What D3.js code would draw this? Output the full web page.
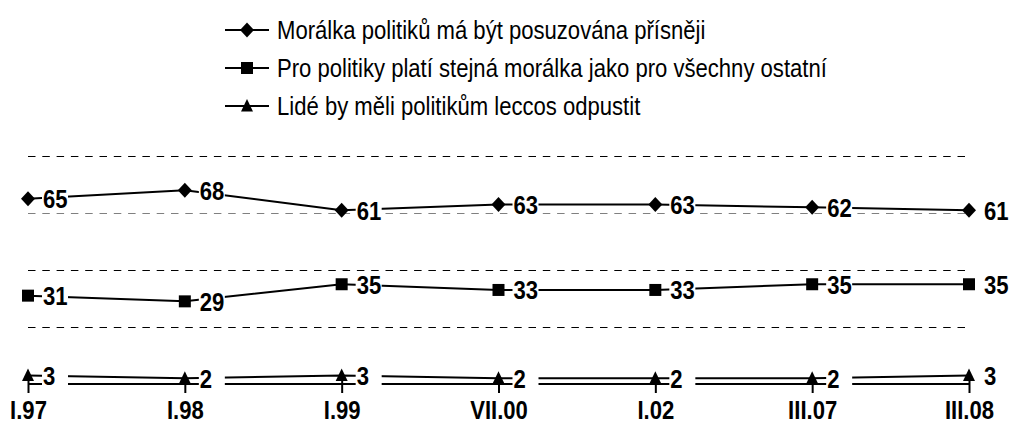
<!DOCTYPE html>
<html>
<head>
<meta charset="utf-8">
<script src="https://cdn.jsdelivr.net/npm/d3@7"></script>
<style>
  body { margin: 0; background: #fff; }
  svg { display: block; }
  .lbl { font: bold 26px "Liberation Sans", Arial, sans-serif; }
  .leg { font: 26px "Liberation Sans", Arial, sans-serif; }
</style>
</head>
<body>
<svg id="chart" width="1010" height="434"></svg>
<script>
var periods = ["I.97", "I.98", "I.99", "VII.00", "I.02", "III.07", "III.08"];
var stricter = [65, 68, 61, 63, 63, 62, 61];
var sameMoral = [31, 29, 35, 33, 33, 35, 35];
var forgive = [3, 2, 3, 2, 2, 2, 3];
var legendNames = [
  "Morálka politiků má být posuzována přísněji",
  "Pro politiky platí stejná morálka jako pro všechny ostatní",
  "Lidé by měli politikům leccos odpustit"
];
var gridValues = [20, 40, 60, 80];

var series = [
  {name: legendNames[0], values: stricter, shape: "diamond"},
  {name: legendNames[1], values: sameMoral, shape: "square"},
  {name: legendNames[2], values: forgive, shape: "triangle"}
];

var narrow = 0.85; // text in the original is horizontally condensed

var svg = d3.select("#chart");

var x = d3.scalePoint().domain(periods).range([28, 969]);
var y = d3.scaleLinear().domain([0, 80]).range([384, 156]);

function marker(shape) {
  if (shape == "diamond") return "M0,-7.5L7,0L0,7.5L-7,0Z";
  if (shape == "square") return "M-6,-6H6V6H-6Z";
  return "M0,-7L6,5.5L-6,5.5Z";
}

// gridlines
svg.append("g").selectAll("line")
  .data(gridValues)
  .enter().append("line")
    .attr("x1", x.range()[0])
    .attr("x2", x.range()[1] + 2)
    .attr("y1", function(d) { return Math.round(y(d)) + 0.5; })
    .attr("y2", function(d) { return Math.round(y(d)) + 0.5; })
    .attr("stroke", function(d) { return d == 60 ? "#808080" : "#000"; })
    .attr("stroke-width", 1)
    .attr("stroke-dasharray", "7.5,6.8");

// x axis
var xAxis = svg.append("g")
  .attr("transform", "translate(0," + y(0) + ")")
  .call(d3.axisBottom(x).tickSize(9).tickPadding(8));
xAxis.attr("font-family", null).attr("font-size", null);
xAxis.select(".domain").attr("stroke", "#000").attr("stroke-width", 2)
  .attr("d", "M" + x.range()[0] + ",0H" + x.range()[1]);
xAxis.selectAll(".tick line").attr("stroke", "#000").attr("stroke-width", 2).attr("y1", -3);
xAxis.selectAll(".tick text")
  .attr("fill", "#000")
  .attr("class", "lbl")
  .attr("transform", "scale(" + narrow + ",1)");

var line = d3.line()
  .x(function(d, i) { return x(periods[i]); })
  .y(function(d) { return y(d); });

var sg = svg.selectAll(".series")
  .data(series)
  .enter().append("g")
    .attr("class", "series");

sg.append("path")
  .attr("d", function(d) { return line(d.values); })
  .attr("fill", "none")
  .attr("stroke", "#000")
  .attr("stroke-width", 2);

sg.each(function(s) {
  var g = d3.select(this);
  var pts = s.values.map(function(v, i) { return {v: v, p: periods[i]}; });

  g.selectAll(".mk")
    .data(pts)
    .enter().append("path")
      .attr("class", "mk")
      .attr("transform", function(d) { return "translate(" + x(d.p) + "," + y(d.v) + ")"; })
      .attr("d", marker(s.shape))
      .attr("fill", "#000");

  var lb = g.selectAll(".vl")
    .data(pts)
    .enter().append("g")
      .attr("class", "vl")
      .attr("transform", function(d) { return "translate(" + (x(d.p) + 14) + "," + y(d.v) + ")"; });
  lb.append("rect")
    .attr("x", 0).attr("y", -10)
    .attr("width", 26).attr("height", 20)
    .attr("fill", "#fff");
  lb.append("text")
    .attr("class", "lbl")
    .attr("transform", "translate(1,0) scale(" + narrow + ",1)")
    .attr("dy", "0.36em")
    .text(function(d) { return d.v; });
});

// legend
var legend = svg.append("g").selectAll("g")
  .data(series)
  .enter().append("g")
    .attr("transform", function(d, i) { return "translate(225," + (30 + i * 38) + ")"; });
legend.append("line")
  .attr("x1", 0).attr("x2", 44)
  .attr("stroke", "#000").attr("stroke-width", 2);
legend.append("path")
  .attr("transform", "translate(22,0)")
  .attr("d", function(d) { return marker(d.shape); })
  .attr("fill", "#000");
legend.append("text")
  .attr("class", "leg")
  .attr("transform", "translate(52,0) scale(" + narrow + ",1)")
  .attr("dy", "0.35em")
  .text(function(d) { return d.name; });
</script>
</body>
</html>
